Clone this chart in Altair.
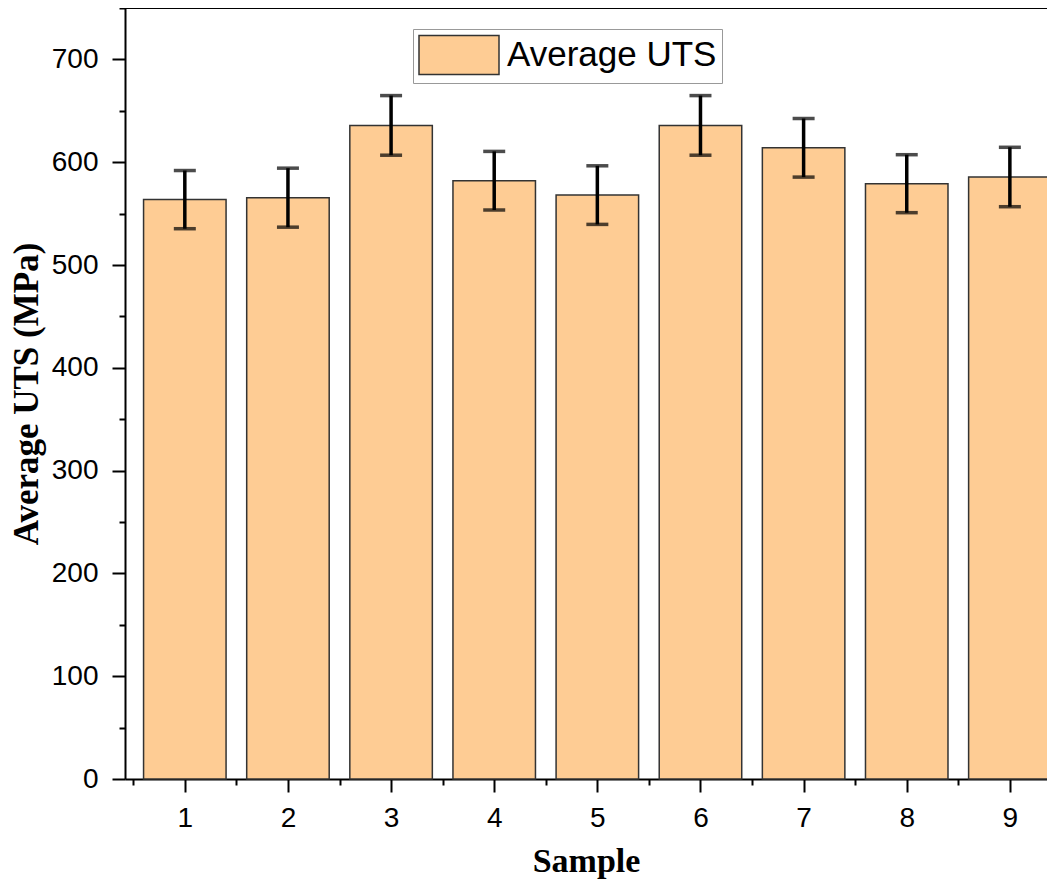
import altair as alt
import pandas as pd

# ---- data ----
samples = [1, 2, 3, 4, 5, 6, 7, 8, 9]
avg_uts = [563.6, 565.5, 635.8, 582.0, 568.0, 635.8, 614.0, 579.1, 585.6]
uts_err = [28.3, 28.7, 29.0, 28.5, 28.5, 29.0, 28.5, 28.2, 28.9]
series_name = "Average UTS"
x_tick_values = [0.5, 1, 1.5, 2, 2.5, 3, 3.5, 4, 4.5, 5, 5.5, 6, 6.5, 7, 7.5, 8, 8.5, 9]
y_tick_values = [0, 50, 100, 150, 200, 250, 300, 350, 400, 450, 500, 550, 600, 650, 700, 750]
y_top = 750

df = pd.DataFrame({
    "sample": samples,
    "uts": avg_uts,
    "err": uts_err,
    "series": [series_name] * len(samples),
})

bar_fill = "#FECC94"

xscale = alt.Scale(domain=[0.42, 9.36], nice=False, zero=False)
yscale = alt.Scale(domain=[0, y_top], nice=False)

xaxis = alt.Axis(
    title="Sample",
    values=x_tick_values,
    labelExpr="datum.value % 1 === 0 ? format(datum.value, 'd') : ''",
    tickSize={"condition": {"test": "datum.value % 1 === 0", "value": 13}, "value": 6},
    labelPadding=12,
    titlePadding=12,
    titleFontSize=34,
    grid=False,
)
yaxis = alt.Axis(
    title="Average UTS (MPa)",
    values=y_tick_values,
    labelExpr="datum.value % 100 === 0 ? datum.label : ''",
    tickSize={"condition": {"test": "datum.value % 100 === 0", "value": 13}, "value": 6},
    labelPadding=14,
    titlePadding=7,
    titleFontSize=35,
    grid=False,
)

base = alt.Chart(df).transform_calculate(
    x0="datum.sample - 0.4",
    x1="datum.sample + 0.4",
    lo="datum.uts - datum.err",
    hi="datum.uts + datum.err",
)

bars = base.mark_bar(stroke="#333333", strokeWidth=1.5, opacity=1).encode(
    x=alt.X("x0:Q", scale=xscale, axis=xaxis),
    x2="x1:Q",
    y=alt.Y("uts:Q", scale=yscale, axis=yaxis),
    y2=alt.datum(0),
    color=alt.Color(
        "series:N",
        scale=alt.Scale(domain=[series_name], range=[bar_fill]),
        legend=alt.Legend(
            title=None,
            orient="none",
            legendX=288,
            legendY=21,
            symbolType="M-1,-0.975L3,-0.975L3,0.975L-1,0.975Z",
            symbolSize=1600,
            symbolStrokeColor="#333333",
            symbolStrokeWidth=1.5,
            symbolOpacity=1,
            labelFont="Liberation Sans",
            labelFontSize=35,
            labelColor="black",
            labelOffset=47,
            labelLimit=500,
            strokeColor="#999999",
            padding=5,
        ),
    ),
)

whiskers = base.mark_rule(color="black", strokeWidth=3.5).encode(
    x=alt.X("sample:Q", scale=xscale),
    y=alt.Y("lo:Q", scale=yscale),
    y2="hi:Q",
)
cap_hi = base.mark_tick(color="black", thickness=3.5, size=22, orient="horizontal").encode(
    x=alt.X("sample:Q", scale=xscale),
    y=alt.Y("hi:Q", scale=yscale),
)
cap_lo = base.mark_tick(color="black", thickness=3.5, size=22, orient="horizontal").encode(
    x=alt.X("sample:Q", scale=xscale),
    y=alt.Y("lo:Q", scale=yscale),
)
top_line = alt.Chart(df).mark_rule(color="black", strokeWidth=2).encode(
    y=alt.datum(y_top, scale=yscale),
)

chart = (
    alt.layer(bars, whiskers, cap_hi, cap_lo, top_line)
    .properties(
        width=922,
        height=771,
        autosize=alt.AutoSizeParams(type="none"),
        padding={"left": 117, "top": 0, "right": 0, "bottom": 100},
    )
    .configure_view(stroke=None)
    .configure_axis(
        domainColor="black",
        domainWidth=2,
        tickColor="black",
        tickWidth=2,
        labelFont="Liberation Sans",
        labelFontSize=28,
        labelColor="black",
        titleFont="Liberation Serif",
        titleFontWeight="bold",
        titleColor="black",
    )
)

chart.save("out.html", embed_options={"renderer": "svg", "actions": False})
